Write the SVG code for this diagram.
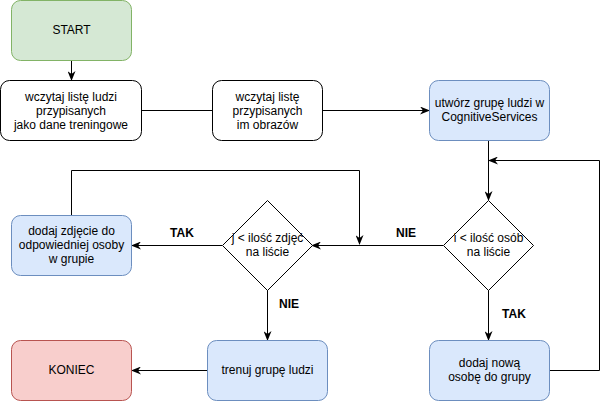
<svg xmlns="http://www.w3.org/2000/svg" width="607" height="401" viewBox="0 0 607 401">
<style>
text{font-family:"Liberation Sans",Arial,sans-serif;font-size:12px;fill:#000;text-anchor:middle}
.lbl{font-weight:bold}
.w{fill:#fff;stroke:#000;stroke-width:1}
.g{fill:#d5e8d4;stroke:#82b366;stroke-width:1}
.b{fill:#dae8fc;stroke:#6c8ebf;stroke-width:1}
.r{fill:#f8cecc;stroke:#b85450;stroke-width:1}
.c{fill:none;stroke:#000;stroke-width:1}
</style>
<defs>
<marker id="a" viewBox="0 0 10 8" refX="9" refY="4" markerWidth="10" markerHeight="8" markerUnits="userSpaceOnUse" orient="auto">
<path d="M0,0 L10,4 L0,8 L3,4 z" fill="#000"/>
</marker>
</defs>
<rect width="607" height="401" fill="#fff"/>
<g id="connectors">
<path class="c" d="M71.5,61 L71.5,80" marker-end="url(#a)"/>
<path class="c" d="M141.5,110.5 L212,110.5"/>
<path class="c" d="M322,110.5 L429,110.5" marker-end="url(#a)"/>
<path class="c" d="M488.5,140 L488.5,200" marker-end="url(#a)"/>
<path class="c" d="M549,370.5 L599.5,370.5 L599.5,160.5 L489,160.5" marker-end="url(#a)"/>
<path class="c" d="M443,245.5 L312,245.5" marker-end="url(#a)"/>
<path class="c" d="M488.5,290 L488.5,340" marker-end="url(#a)"/>
<path class="c" d="M222,245.5 L132,245.5" marker-end="url(#a)"/>
<path class="c" d="M71.5,215 L71.5,170.5 L359.5,170.5 L359.5,244" marker-end="url(#a)"/>
<path class="c" d="M267.5,290 L267.5,340" marker-end="url(#a)"/>
<path class="c" d="M207,370.5 L132,370.5" marker-end="url(#a)"/>
<text class="lbl" x="406" y="237">NIE</text>
<text class="lbl" x="182" y="237">TAK</text>
<text class="lbl" x="289" y="308">NIE</text>
<text class="lbl" x="514" y="318">TAK</text>
</g>
<g id="start">
<rect class="g" x="11.5" y="0.5" width="120" height="60" rx="9"/>
<text x="71.5" y="34">START</text>
</g>
<g id="wczytaj-ludzi">
<rect class="w" x="0.5" y="80.5" width="141" height="60" rx="9"/>
<text x="71" y="101">wczytaj listę ludzi</text>
<text x="71" y="115">przypisanych</text>
<text x="71" y="129">jako dane treningowe</text>
</g>
<g id="wczytaj-obrazy">
<rect class="w" x="212.5" y="80.5" width="110" height="60" rx="9"/>
<text x="267.5" y="101">wczytaj listę</text>
<text x="267.5" y="115">przypisanych</text>
<text x="267.5" y="129">im obrazów</text>
</g>
<g id="utworz-grupe">
<rect class="b" x="429.5" y="80.5" width="120" height="60" rx="9"/>
<text x="489.5" y="107">utwórz grupę ludzi w</text>
<text x="489.5" y="121">CognitiveServices</text>
</g>
<g id="decyzja-osoby">
<path class="w" d="M488.5,200.5 L533.5,245.5 L488.5,290.5 L443.5,245.5 Z"/>
<text x="488.5" y="242">i &lt; ilość osób</text>
<text x="488.5" y="256">na liście</text>
</g>
<g id="decyzja-zdjecia">
<path class="w" d="M267.5,200.5 L312.5,245.5 L267.5,290.5 L222.5,245.5 Z"/>
<text x="267.5" y="242">j &lt; ilość zdjęć</text>
<text x="267.5" y="256">na liście</text>
</g>
<g id="dodaj-zdjecie">
<rect class="b" x="11.5" y="215.5" width="120" height="60" rx="9"/>
<text x="71.5" y="235">dodaj zdjęcie do</text>
<text x="71.5" y="249">odpowiedniej osoby</text>
<text x="71.5" y="263">w grupie</text>
</g>
<g id="koniec">
<rect class="r" x="11.5" y="340.5" width="120" height="60" rx="9"/>
<text x="71.5" y="374">KONIEC</text>
</g>
<g id="trenuj">
<rect class="b" x="207.5" y="340.5" width="120" height="60" rx="9"/>
<text x="267.5" y="374">trenuj grupę ludzi</text>
</g>
<g id="dodaj-osobe">
<rect class="b" x="429.5" y="340.5" width="120" height="60" rx="9"/>
<text x="489.5" y="367">dodaj nową</text>
<text x="489.5" y="381">osobę do grupy</text>
</g>
</svg>
